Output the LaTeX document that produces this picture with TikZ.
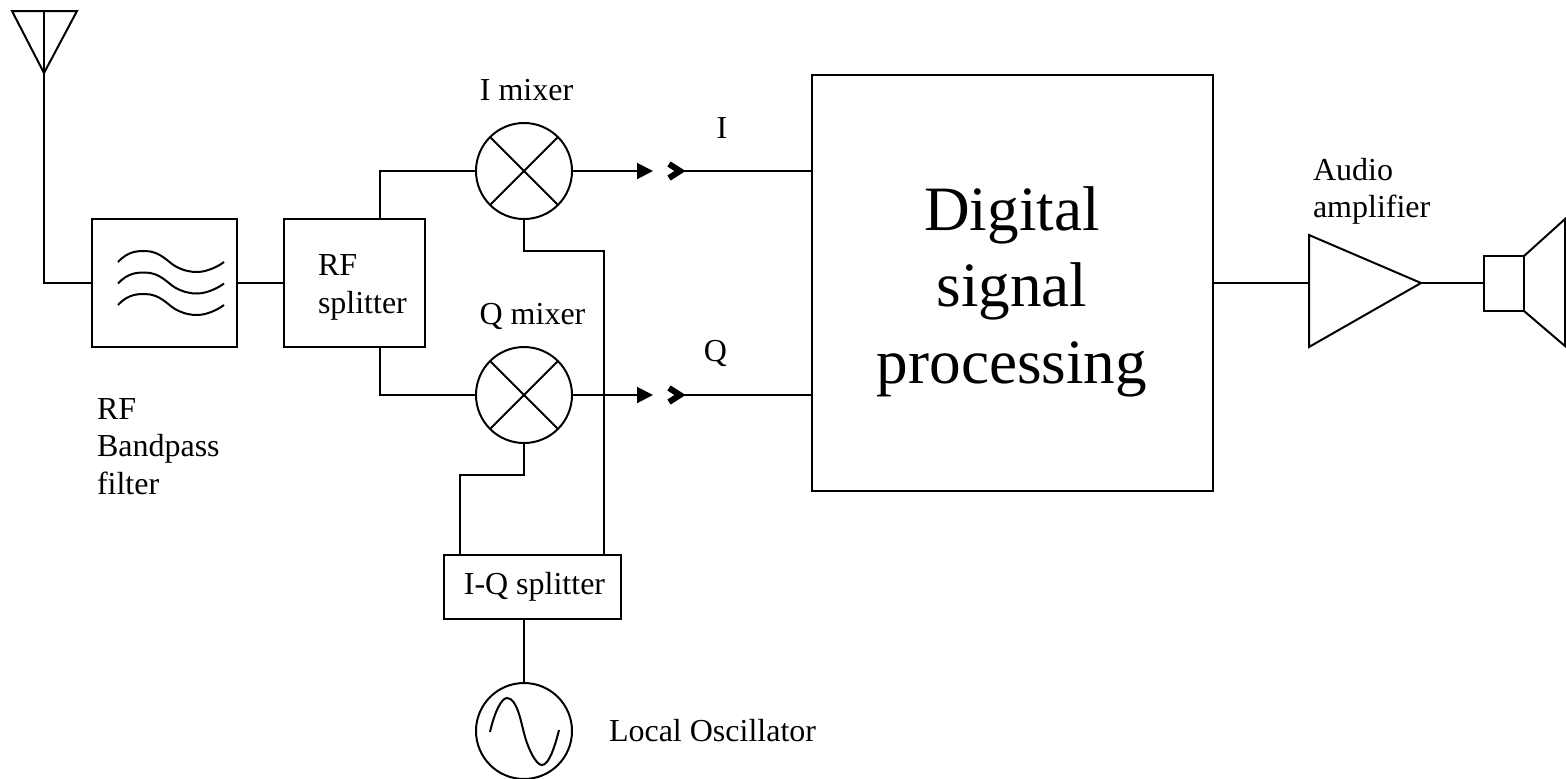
\documentclass[tikz,border=0pt]{standalone}
\usepackage{fontspec}
\setmainfont{Liberation Serif}
\usetikzlibrary{positioning, arrows.meta}
\tikzset{block/.style={
    rectangle,
    draw,
    inner sep=0pt,
    outer sep=0pt
}}
\tikzset{mixer/.style={
    circle,
    draw,
    minimum size=48pt,
    inner sep=0pt,
    outer sep=0pt
}}
\tikzset{chevron/.style={
    line width=3pt,
    miter limit=10
}}
\tikzset{caption/.style={
    align=left,
    inner sep=0pt,
    font=\fontsize{16}{18.75}\selectfont
}}
\begin{document}
\begin{tikzpicture}[
    x=0.5pt, y=-0.5pt, line width=1pt,
    >={Triangle[length=8pt, width=8pt]}
]
    \useasboundingbox (0,0) rectangle (1566,778);
    % Front end
    \coordinate (antenna) at (44,73);
    \node (filter) [block, minimum width=72.5pt, minimum height=64pt] at (164.5,283) {};
    \node (rfsplit) [block, minimum width=70.5pt, minimum height=64pt] at (354.5,283) {};
    \node (imix) [mixer] at (524,171) {};
    \node (qmix) [mixer] at (524,395) {};
    \node (iqsplit) [block, minimum width=88.5pt, minimum height=32pt,
        font=\fontsize{16}{18.75}\selectfont] at (532.5,587) {\hspace*{2pt}I-Q splitter};
    \node (osc) [mixer] at (524,731) {};
    % Back end
    \node (dsp) [block, minimum width=200.5pt, minimum height=208pt] at (1012.5,283) {};
    \coordinate (ampin) at (1309,283);
    \coordinate (ampout) at (1421,283);
    \node (spk) [block, minimum width=20pt, minimum height=27.5pt] at (1504,283.5) {};
    % Free ends
    \coordinate (itip) at (653,171);
    \coordinate (ichev) at (680,171);
    \coordinate (qtip) at (653,395);
    \coordinate (qchev) at (680,395);
    % Symbols
    \draw (12,11) -- (77,11) -- (antenna) -- cycle;
    \draw (44,11) -- (antenna);
    \draw (ampin |- 0,235) -- (ampout) -- (ampin |- 0,347) -- cycle;
    \draw (spk.north east) -- (1565,219) -- (1565,346) -- (spk.south east);
    \foreach \m in {imix, qmix} {
        \draw (\m.45) -- (\m.225);
        \draw (\m.135) -- (\m.315);
    }
    \foreach \y in {0, 21.5, 43} {
        \draw [yshift=-0.5pt*\y] (118,262) .. controls (128,251) and (138,251) .. (145,251)
            .. controls (160,251) and (168,262) .. (175,266)
            .. controls (184,271) and (191,272) .. (197,272)
            .. controls (205,272) and (216,268) .. (224,262);
    }
    \draw (490,732) .. controls (494,714) and (501,698) .. (507,698)
        .. controls (517,698) and (521,722) .. (524,733)
        .. controls (528,749) and (536,765) .. (542,765)
        .. controls (549,765) and (555,746) .. (559,730);
    % Connectors
    \draw (antenna) |- (filter.west);
    \draw (filter) -- (rfsplit);
    \draw (rfsplit.north -| 380,0) |- (imix.west);
    \draw (rfsplit.south -| 380,0) |- (qmix.west);
    \draw [->] (imix) -- (itip);
    \draw [->] (qmix) -- (qtip);
    \draw [chevron] (669,164) -- (ichev) -- (669,178);
    \draw [chevron] (669,388) -- (qchev) -- (669,402);
    \draw (ichev) -- (ichev -| dsp.west);
    \draw (qchev) -- (qchev -| dsp.west);
    \draw (imix.south) |- (604,251) -- (iqsplit.north -| 604,0);
    \draw (qmix.south) |- (460,475) -- (iqsplit.north -| 460,0);
    \draw (iqsplit.south -| osc.north) -- (osc.north);
    \draw (dsp.east |- ampin) -- (ampin);
    \draw (ampout) -- (spk.west |- ampout);
    % Labels
    \node (dsplabel) [align=center, inner sep=0pt,
        font=\fontsize{31.6}{38.25}\selectfont] at (1012,291.8) {Digital\\signal\\processing};
    \node (imixlabel) [caption] at (526.5,90) {I mixer};
    \node (qmixlabel) [caption] at (532.5,316.5) {Q mixer};
    \node (ilabel) [caption] at (722,128.4) {I};
    \node (qlabel) [caption] at (715.5,353.5) {Q};
    \node (rflabel) [caption, anchor=west] at (317,287.6) {RF\\splitter};
    \node (bplabel) [caption, anchor=west] at (96,446.6) {RF\\Bandpass\\filter};
    \node (audiolabel) [caption, anchor=west] at (1312,191.2) {Audio\\amplifier};
    \node (osclabel) [caption, anchor=west] at (608,731) {Local Oscillator};
\end{tikzpicture}
\end{document}
